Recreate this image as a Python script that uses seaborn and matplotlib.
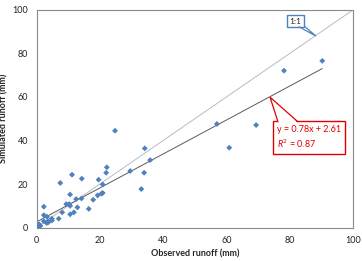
import numpy as np
import pandas as pd
import matplotlib
matplotlib.use('Agg')
import matplotlib.pyplot as plt
from matplotlib.patches import Polygon
import seaborn as sns

# observed vs simulated runoff (mm)
observed = [0.3, 0.5, 0.8, 1.0, 1.2, 2.3, 2.3, 2.3, 3.2, 3.3, 3.6, 3.8, 4.8, 4.9,
            7.0, 7.5, 8.1, 9.4, 10.3, 10.6, 10.6, 10.6, 11.2, 11.8, 12.5, 12.9,
            14.2, 14.3, 16.5, 17.9, 19.3, 19.6, 20.5, 20.9, 20.9, 22.0, 22.2,
            24.8, 29.6, 33.1, 34.0, 34.2, 35.9, 57.0, 60.9, 69.4, 78.2, 90.3]
simulated = [0.2, 0.5, 1.5, 1.0, 0.8, 9.6, 5.7, 2.9, 2.1, 5.0, 2.9, 2.5, 4.1, 3.3,
             4.1, 20.5, 7.0, 10.8, 10.8, 10.0, 6.1, 15.2, 24.3, 7.0, 13.1, 9.3,
             13.4, 22.5, 8.6, 12.8, 14.8, 22.0, 15.6, 15.9, 19.8, 25.2, 27.7,
             44.5, 26.0, 17.7, 25.2, 36.4, 31.0, 47.6, 36.7, 47.1, 72.1, 76.6]
slope = 0.78
intercept = 2.61
r2 = 0.87
one_to_one = [0, 100]
ticks = [0, 20, 40, 60, 80, 100]

sns.set_style('white')
plt.rcParams['font.family'] = ['Lato', 'DejaVu Sans']
plt.rcParams['mathtext.fontset'] = 'custom'
plt.rcParams['mathtext.rm'] = 'Lato'
plt.rcParams['mathtext.it'] = 'Lato:italic'

df = pd.DataFrame({'obs': observed, 'sim': simulated})
xfit = np.array([min(observed), max(observed)])
fit = pd.DataFrame({'x': xfit, 'y': slope * xfit + intercept})
diag = pd.DataFrame({'x': one_to_one, 'y': one_to_one})

fig = plt.figure(figsize=(3.62, 2.61), dpi=100)
ax = fig.add_axes([0.101, 0.128, 0.874, 0.834])

sns.lineplot(data=diag, x='x', y='y', ax=ax, color='#b4bccb', lw=0.7)
sns.lineplot(data=fit, x='x', y='y', ax=ax, color='#5a5a5a', lw=0.7)
sns.scatterplot(data=df, x='obs', y='sim', ax=ax, marker='D', s=9,
                color='#4f81bd', edgecolor='none', zorder=3)

ax.set_xlim(0, 100)
ax.set_ylim(0, 100)
ax.set_xticks(ticks)
ax.set_yticks(ticks)
ax.tick_params(length=0, labelsize=6.5, colors='#222222', pad=6)
for s in ax.spines.values():
    s.set_color('#8a8a8a')
    s.set_linewidth(0.8)
ax.set_xlabel('Observed runoff (mm)', fontsize=6.5, fontweight='bold', labelpad=3)
ax.set_ylabel('Simulated runoff (mm)', fontsize=6.5, fontweight='bold')
ax.yaxis.set_label_coords(-0.088, 0.5)


def callout(base_l, base_r, base_y, tip, color):
    # pointer of a callout box: white wedge with two coloured sides
    pts = [(base_l, base_y - 0.6), (base_r, base_y - 0.6), tip]
    ax.add_patch(Polygon(pts, closed=True, fc='white', ec='none', zorder=6))
    ax.plot([base_l, tip[0], base_r], [base_y, tip[1], base_y],
            color=color, lw=0.9, zorder=7, solid_joinstyle='miter')


# 1:1 label
ax.text(81.8, 94.9, '1:1', fontsize=6, ha='center', va='center', zorder=5,
        bbox=dict(boxstyle='square,pad=0.35', fc='white', ec='#4f81bd', lw=1))
callout(83.0, 84.9, 92.2, (88.3, 88.0), '#4f81bd')

# regression equation
ax.text(76.0, 41.4, 'y = %.2fx + %.2f\n$R^2$ = %.2f' % (slope, intercept, r2),
        fontsize=6.5, ha='left', va='center', color='#e00000', linespacing=1.3,
        zorder=5,
        bbox=dict(boxstyle='square,pad=0.45', fc='white', ec='#e00000', lw=1))
callout(76.3, 82.6, 48.6, (73.8, 59.9), '#e00000')

fig.savefig('out.png', dpi=100)
